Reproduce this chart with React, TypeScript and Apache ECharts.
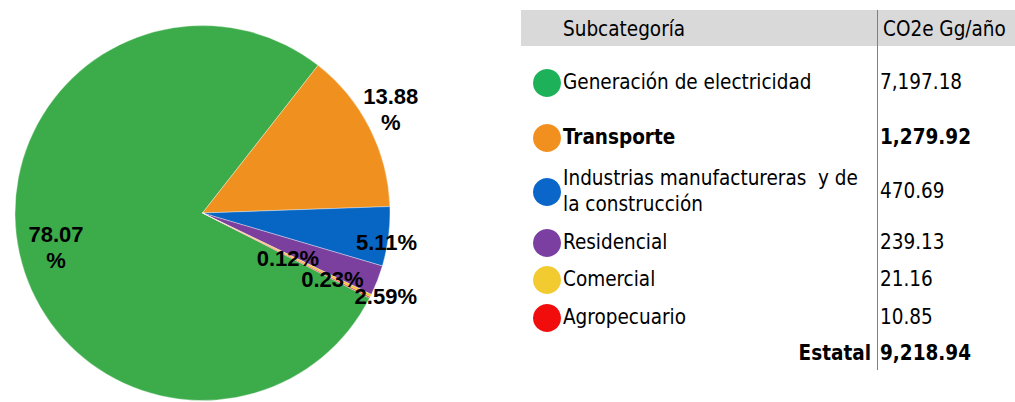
import React, { useEffect, useRef } from "react";
import * as echarts from "echarts";

const categories = [
  "Generación de electricidad",
  "Transporte",
  "Industrias manufactureras  y de\nla construcción",
  "Residencial",
  "Comercial",
  "Agropecuario",
];
const values = [7197.18, 1279.92, 470.69, 239.13, 21.16, 10.85];
const headers = ["Subcategoría", "CO2e Gg/año"];
const totalName = "Estatal";
const totalValue = 9218.94;

const pieColors = ["#3cab4a", "#f0901e", "#0766c4", "#7b3f9e", "#f5c32c", "#e8262a"];
const dotColors = ["#1db25a", "#f2901f", "#0a66c8", "#7a3fa0", "#f2cb30", "#f20d0d"];
const boldRows = [false, true, false, false, false, false];
const labelWrap = [true, true, false, false, false, false];
const labelOffsets = [
  [-52, 14],
  [102, -60],
  [88, 17],
  [93, 49],
  [43, 24],
  [-1, 2],
];
const rowY = [82, 137, 191, 242, 279, 317];
const totalY = 353;

const TABLE_FONT = "'DejaVu Sans Condensed', Tahoma, 'DejaVu Sans', sans-serif";
const fmt = (v: number) =>
  v.toLocaleString("en-US", { minimumFractionDigits: 2, maximumFractionDigits: 2 });

export default function App() {
  const ref = useRef<HTMLDivElement>(null);
  useEffect(() => {
    document.body.style.margin = "0";
    const chart = echarts.init(ref.current!, null, { renderer: "svg" });
    const txt = (text: string, x: number, y: number, opts: any = {}) => ({
      type: "text",
      x,
      y,
      silent: true,
      style: {
        text,
        fill: "#000",
        fontFamily: TABLE_FONT,
        fontSize: 20.5,
        fontWeight: opts.bold ? "bold" : "normal",
        align: opts.align || "left",
        textAlign: opts.align || "left",
        verticalAlign: "middle",
        textVerticalAlign: "middle",
        lineHeight: 26,
      },
    });
    const graphics: any[] = [
      { type: "rect", silent: true, shape: { x: 521, y: 10, width: 494, height: 36 }, style: { fill: "#d9d9d9" } },
      { type: "line", silent: true, shape: { x1: 877.5, y1: 10, x2: 877.5, y2: 370 }, style: { stroke: "#808080", lineWidth: 1 } },
      txt(headers[0], 563, 29),
      txt(headers[1], 883, 29),
    ];
    categories.forEach((c, i) => {
      graphics.push({
        type: "circle",
        silent: true,
        shape: { cx: 547, cy: rowY[i] + 1, r: 14 },
        style: { fill: dotColors[i] },
      });
      graphics.push(txt(c, 563, rowY[i], { bold: boldRows[i] }));
      graphics.push(txt(fmt(values[i]), 880, rowY[i], { bold: boldRows[i] }));
    });
    graphics.push(txt(totalName, 871, totalY, { bold: true, align: "right" }));
    graphics.push(txt(fmt(totalValue), 880, totalY, { bold: true }));

    chart.setOption({
      animation: false,
      graphic: graphics,
      series: [
        {
          type: "pie",
          center: [202.5, 213],
          radius: 187.5,
          startAngle: 333,
          clockwise: true,
          avoidLabelOverlap: false,
          percentPrecision: 2,
          silent: true,
          labelLayout: { hideOverlap: false },
          itemStyle: { borderColor: "rgba(255,255,255,0.6)", borderWidth: 0.6 },
          label: {
            show: true,
            position: "inside",
            color: "#000",
            fontFamily: "'Liberation Sans', Arial, sans-serif",
            fontWeight: "bold",
            fontSize: 22,
            lineHeight: 26,
            textBorderWidth: 0,
            formatter: (p: any) =>
              labelWrap[p.dataIndex] ? `${p.percent.toFixed(2)}\n%` : `${p.percent.toFixed(2)}%`,
          },
          labelLine: { show: false },
          data: categories.map((c, i) => ({
            name: c,
            value: values[i],
            itemStyle: { color: pieColors[i] },
            label: { offset: labelOffsets[i] },
          })),
        },
      ],
    });
    return () => chart.dispose();
  }, []);
  return <div ref={ref} style={{ width: 1015, height: 402 }} />;
}
